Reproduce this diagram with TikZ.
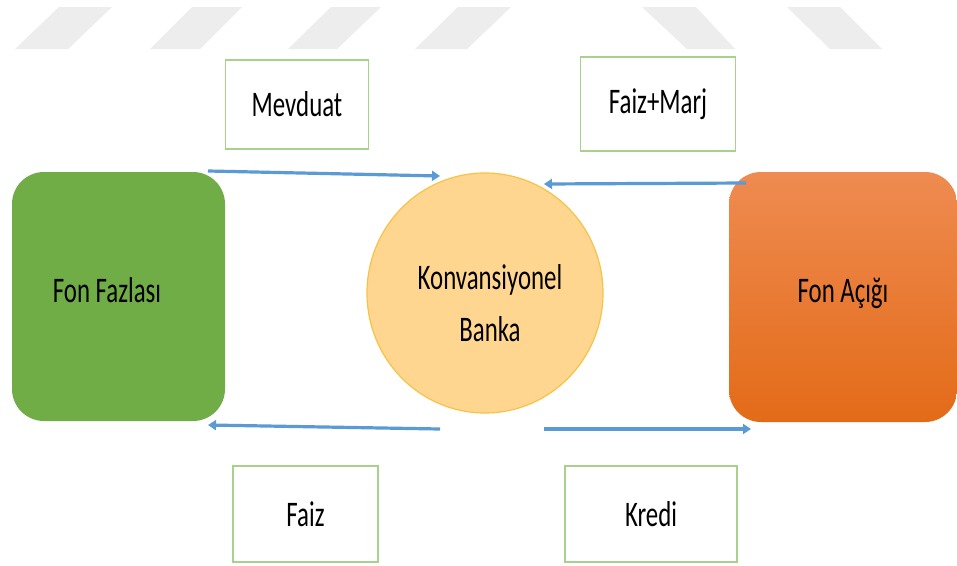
\documentclass[tikz,border=0pt]{standalone}
\usepackage{fontspec}
\usepackage{graphicx}
\setmainfont{Carlito}
\usetikzlibrary{arrows.meta,shapes.geometric}
\definecolor{stripe}{HTML}{EDEDED}
\definecolor{boxline}{HTML}{A9D18E}
\definecolor{fazgreen}{HTML}{70AD47}
\definecolor{orgtop}{HTML}{EF8B51}
\definecolor{orgbot}{HTML}{E36B18}
\definecolor{bankfill}{HTML}{FFD68F}
\definecolor{bankline}{HTML}{F8C247}
\definecolor{arrowblue}{HTML}{5B9BD5}
\newcommand{\sqz}[1]{\scalebox{0.69}[1]{#1}}
\tikzset{
  lbl/.style={font=\fontsize{36}{40}\selectfont, text=black, inner sep=0pt},
  labelbox/.style={draw=boxline, line width=1.5pt, fill=white, inner sep=0pt},
  bigbox/.style={rounded corners=32pt, inner sep=0pt},
  flow/.style={draw=arrowblue, line width=3.2pt, -{Triangle[length=8pt,width=10pt]}}
}
\begin{document}
\begin{tikzpicture}[x=1pt,y=-1pt]
\useasboundingbox (0,0) rectangle (957,565);
\fill[white] (0,0) rectangle (957,565);
% stripes
\foreach \tl/\tr/\bl/\br in {59/112/15/68, 192/242/150/200, 331/381/288/337, 458/511/415/467, 642/696/687/735, 787/840/830/882}{
  \fill[stripe] (\tl,7) -- (\tr,7) -- (\br,49) -- (\bl,49) -- cycle;
}
% big boxes
\node[bigbox, fill=fazgreen, minimum width=213pt, minimum height=249pt] (fazla) at (118.5,296.5) {};
\node[bigbox, top color=orgtop, bottom color=orgbot, minimum width=228pt, minimum height=250pt] (acik) at (843,297) {};
\node[lbl] (fazlaT) at (107,290) {\sqz{Fon Fazlası}};
\node[lbl] (acikT) at (843,293) {\sqz{Fon Açığı}};
% bank
\node[ellipse, draw=bankline, line width=1.2pt, fill=bankfill, minimum width=236pt, minimum height=240pt, inner sep=0pt] (bank) at (485,293) {};
\node[lbl] (bankT) at (490,307) {\sqz{\begin{tabular}{@{}c@{}}Konvansiyonel\\[12pt]Banka\end{tabular}}};
% label boxes
\node[labelbox, minimum width=143pt, minimum height=89pt] (mevduat) at (297,104.5) {};
\node[lbl] at (mevduat) {\sqz{Mevduat}};
\node[labelbox, minimum width=155pt, minimum height=94pt] (marj) at (658,104) {};
\node[lbl] at (marj) {\sqz{Faiz+Marj}};
\node[labelbox, minimum width=145pt, minimum height=96pt] (faiz) at (305.5,514) {};
\node[lbl] at (faiz) {\sqz{Faiz}};
\node[labelbox, minimum width=172pt, minimum height=96pt] (kredi) at (651,514) {};
\node[lbl] at (kredi) {\sqz{Kredi}};
% arrow end points
\coordinate (a1s) at (208,171);
\coordinate (a1e) at (440,176);
\coordinate (a2s) at (746,183);
\coordinate (a2e) at (544,184);
\coordinate (a3s) at (440,429);
\coordinate (a3e) at (208,425);
\coordinate (a4s) at (544,429);
\coordinate (a4e) at (751,429);
\draw[flow] (a1s) -- (a1e);
\draw[flow] (a2s) -- (a2e);
\draw[flow] (a3s) -- (a3e);
\draw[flow] (a4s) -- (a4e);
\end{tikzpicture}
\end{document}
